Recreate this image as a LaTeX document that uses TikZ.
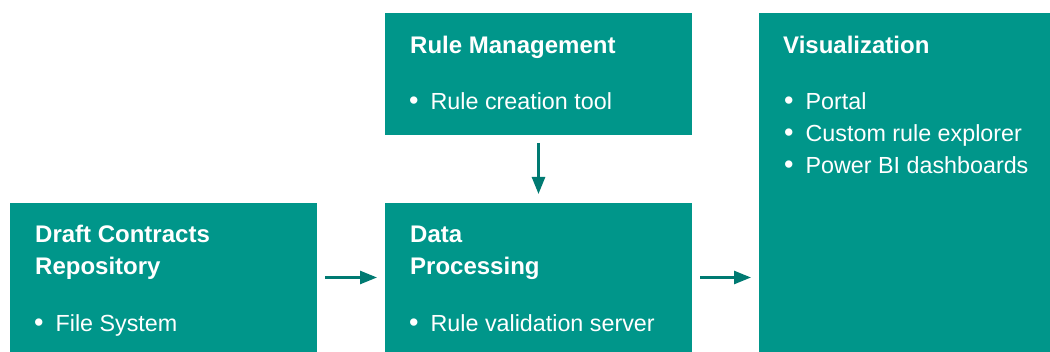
\documentclass[tikz,border=0pt]{standalone}
\usepackage{fontspec}
\setmainfont{Liberation Sans}
\usepackage{tikz}
\usetikzlibrary{arrows.meta}
\definecolor{boxteal}{RGB}{0,150,138}
\definecolor{arrowteal}{RGB}{0,122,114}
\tikzset{
  flow/.style={-{Triangle[length=17pt,width=13pt]},draw=arrowteal,line width=2.6pt,
               shorten <=8pt,shorten >=8pt},
  panel/.style={fill=boxteal,draw=none,inner sep=0pt,outer sep=0pt},
  head/.style={anchor=base west,inner sep=0pt,text=white,
               font=\fontsize{24}{28}\selectfont\bfseries},
  item/.style={anchor=base west,inner sep=0pt,text=white,
               font=\fontsize{23.3}{28}\selectfont},
}
\newcommand{\bul}{{\fontsize{27}{28}\selectfont\textbullet}\hspace{12pt}}
\begin{document}
\begin{tikzpicture}[x=1pt,y=1pt]
  \path[use as bounding box] (0,0) rectangle (1050,352);

  \node[panel,minimum width=307pt,minimum height=149pt] (REPO)  at (163.5,74.5) {};
  \node[panel,minimum width=307pt,minimum height=122pt] (RULES) at (538.5,278) {};
  \node[panel,minimum width=307pt,minimum height=149pt] (PROC)  at (538.5,74.5) {};
  \node[panel,minimum width=291pt,minimum height=339pt] (VIS)   at (904.5,169.5) {};

  % box texts
  \node[head] (REPOa) at (35,109) {Draft Contracts};
  \node[head] (REPOb) at (35,77) {Repository};
  \node[item] (REPOc) at (34,20.3) {\bul File System};

  \node[head] (RULESa) at (410,298) {Rule Management};
  \node[item] (RULESb) at (409,242) {\bul Rule creation tool};

  \node[head] (PROCa) at (410,109) {Data};
  \node[head] (PROCb) at (410,77) {Processing};
  \node[item] (PROCc) at (409,20.3) {\bul Rule validation server};

  \node[head] (VISa) at (783,298) {Visualization};
  \node[item] (VISb) at (784,242) {\bul Portal};
  \node[item] (VISc) at (784,210.3) {\bul Custom rule explorer};
  \node[item] (VISd) at (784,178.7) {\bul Power BI dashboards};

  \draw[flow] (REPO.east)--(PROC.west);
  \draw[flow] (PROC.east)--(PROC.east -| VIS.west);
  \draw[flow,shorten >=9pt] (RULES.south)--(PROC.north);
\end{tikzpicture}
\end{document}
